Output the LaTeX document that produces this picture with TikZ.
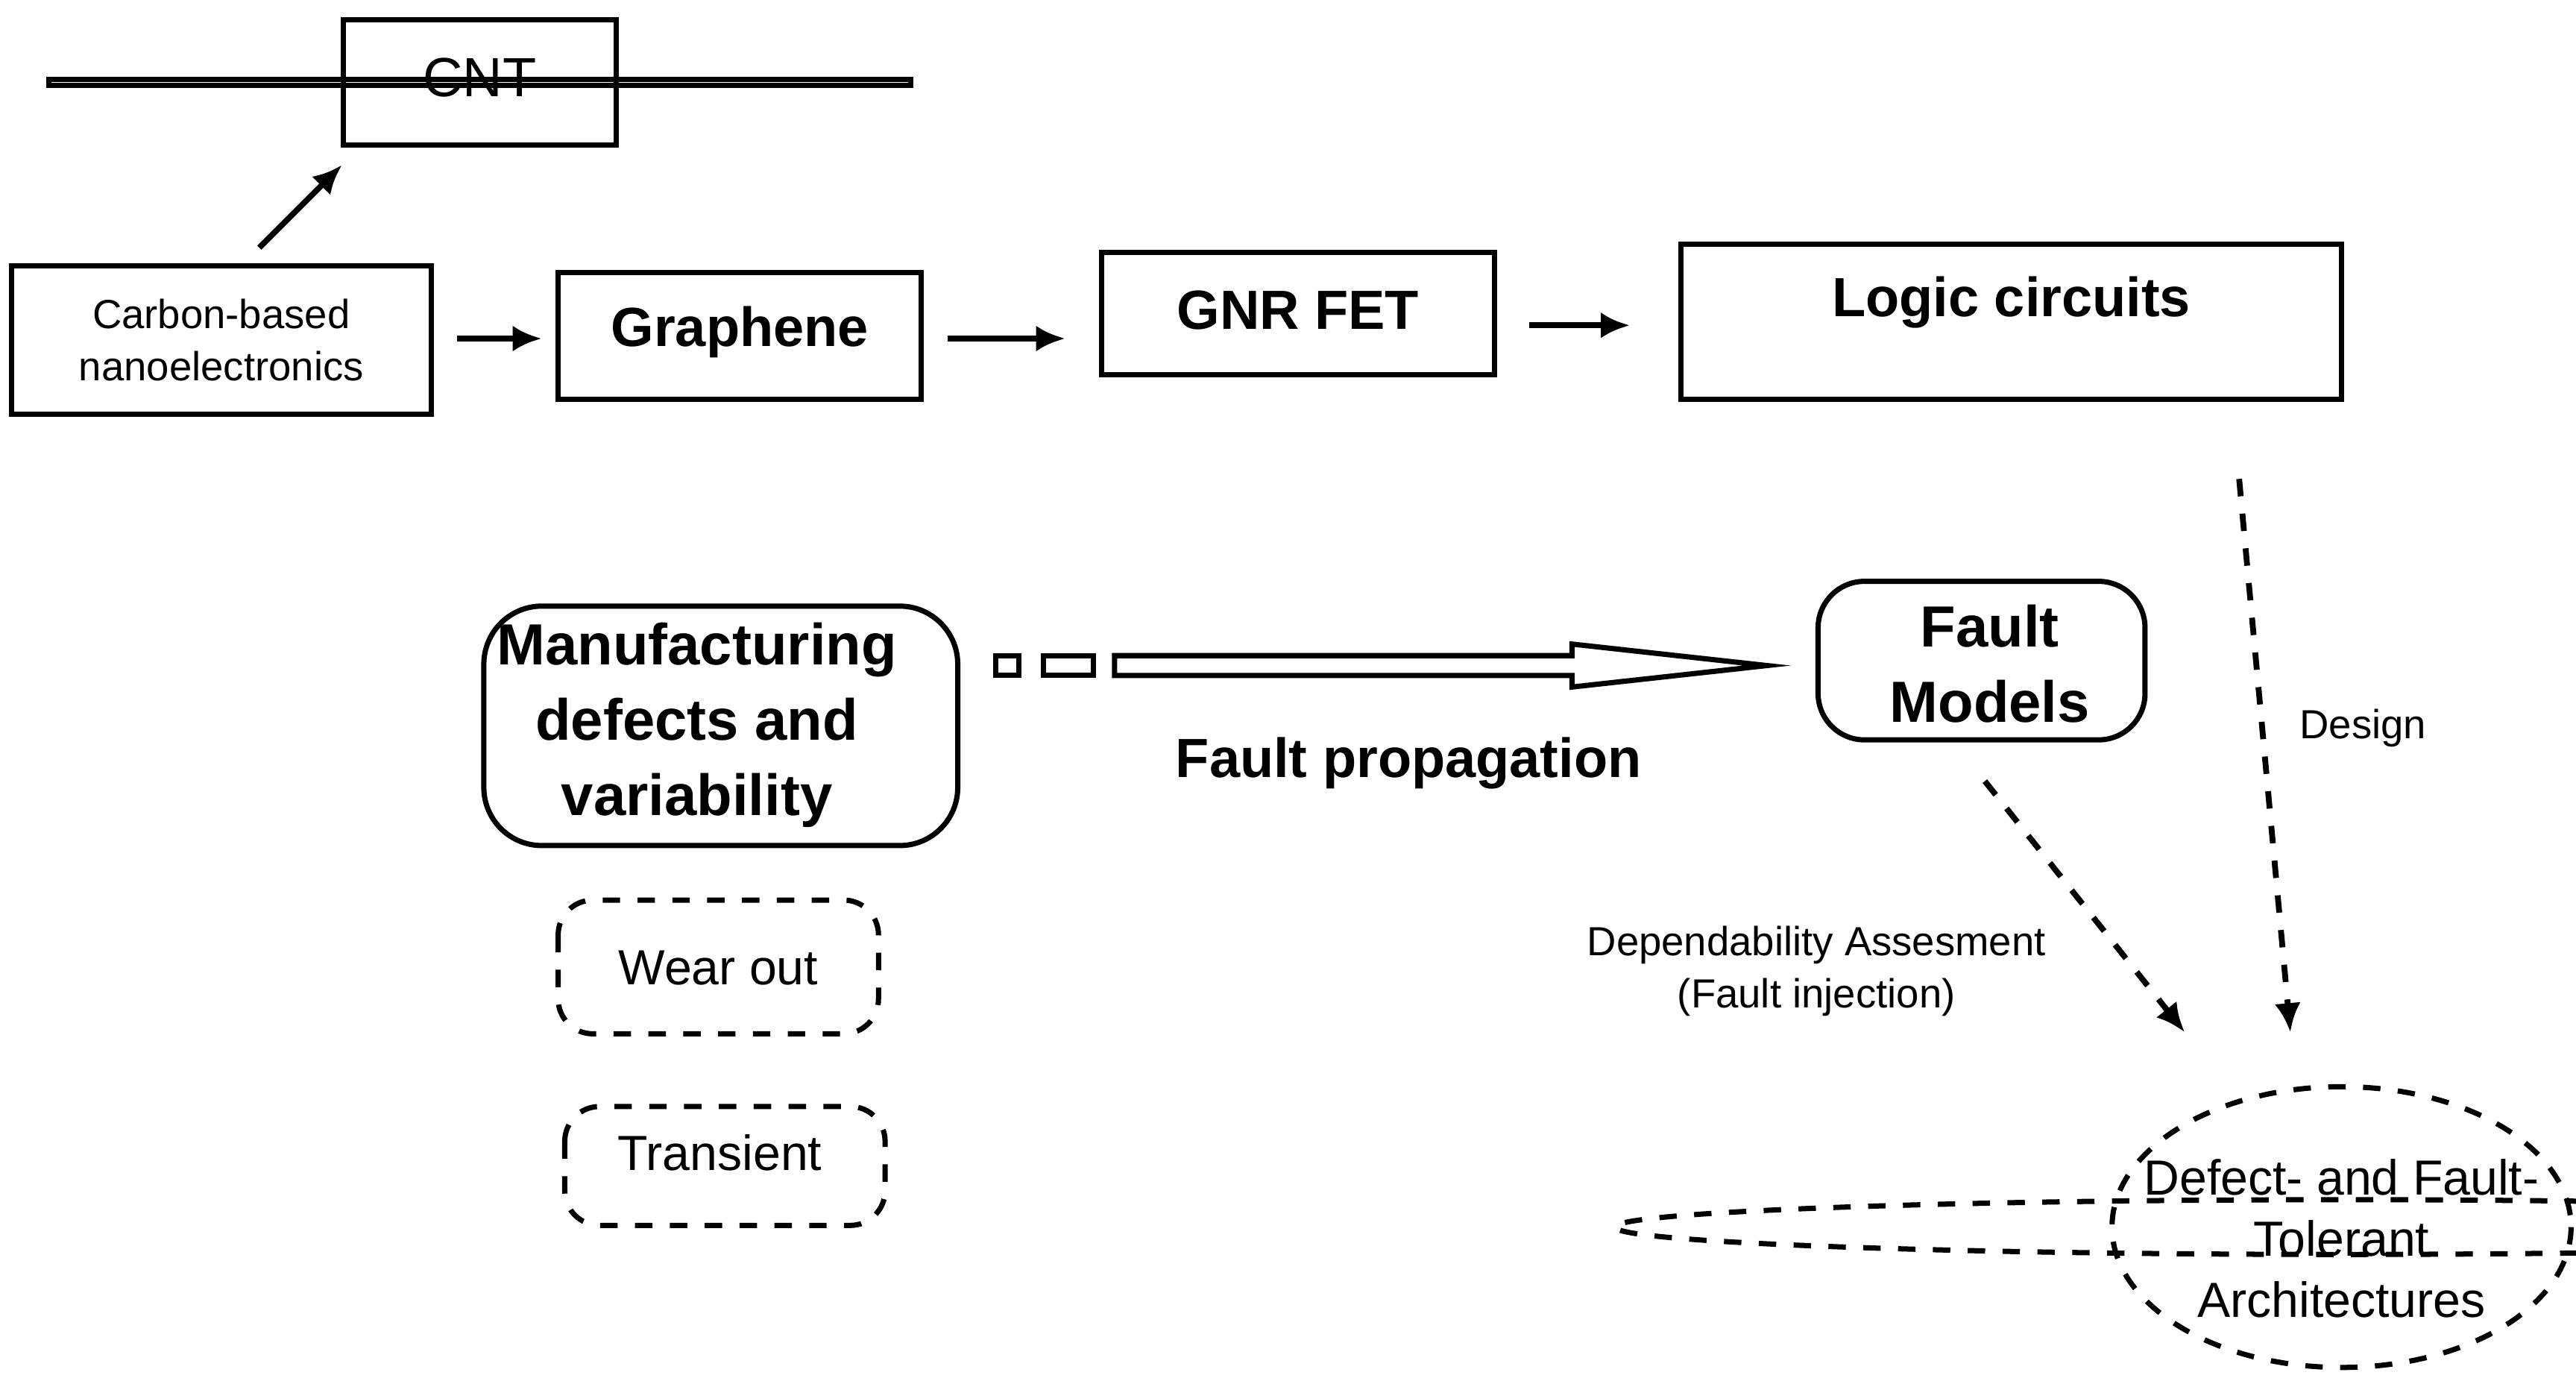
\documentclass[tikz,border=0pt]{standalone}
\usepackage{fontspec}
\setmainfont{Liberation Sans}
\usetikzlibrary{arrows, positioning, shapes.geometric, arrows.meta}

\tikzset{
	box/.style={draw, line width=0.9pt, inner sep=0pt},
	rbox/.style={box, rounded corners=6pt},
	dbox/.style={box, dashed, rounded corners=4pt},
	arr/.style={-{Latex[length=5pt,width=4.5pt]}, line width=1pt},
	darr/.style={arr, dashed}
}

\begin{document}
\begin{tikzpicture}[x=0.01cm, y=-0.01cm]
		\useasboundingbox (0,0) rectangle (1560,837.6);

		% top row
		\node[box, minimum width=165\pgflinewidth] (cnt) at (290.5,50) {};
		\draw[line width=0.9pt] (208,12) rectangle (373,88);
		\node[font=\fontsize{9.5}{11}\selectfont] at (290.5,47) {CNT};
		\draw[line width=0.9pt] (7,161) rectangle (261,251);
		\node[align=center, font=\fontsize{7}{9}\selectfont] (carbon) at (134,206) {Carbon-based\\nanoelectronics};
		\draw[line width=0.9pt] (338,165) rectangle (558,242);
		\node[font=\bfseries\fontsize{9.5}{11}\selectfont] (graphene) at (448,201) {Graphene};
		\draw[line width=0.9pt] (667,153) rectangle (905,227);
		\node[font=\bfseries\fontsize{9.5}{11}\selectfont] (gnr) at (786,188) {GNR FET};
		\draw[line width=0.9pt] (1018,148) rectangle (1418,242);
		\node[font=\bfseries\fontsize{9.5}{11}\selectfont] (logic) at (1218,183) {Logic circuits};

		\coordinate (cntS) at (157,150);
		\coordinate (cntE) at (207,100);
		\draw[arr] (cntS) -- (cntE);
		\coordinate (a1) at (277,205); \coordinate (b1) at (328,205);
		\draw[arr] (a1) -- (b1);
		\coordinate (a2) at (574,205); \coordinate (b2) at (645,205);
		\draw[arr] (a2) -- (b2);
		\coordinate (a3) at (926,197); \coordinate (b3) at (987,197);
		\draw[arr] (a3) -- (b3);

		% faults
		\draw[line width=0.9pt, rounded corners=10pt] (293,367) rectangle (580,512);
		\node[align=center, font=\bfseries\fontsize{10}{13}\selectfont] (manuf) at (422,439) {Manufacturing\\defects and\\variability};
		\draw[line width=0.9pt, rounded corners=8pt] (1101,352) rectangle (1299,448);
		\node[align=center, font=\bfseries\fontsize{10}{13}\selectfont] (fault) at (1205,402) {Fault\\Models};
		\draw[line width=0.9pt, dashed, rounded corners=6pt] (338,545) rectangle (532,626);
		\node[font=\fontsize{8.5}{10}\selectfont] (wear) at (435,586) {Wear out};
		\draw[line width=0.9pt, dashed, rounded corners=6pt] (342,670) rectangle (536,742);
		\node[font=\fontsize{8.5}{10}\selectfont] (trans) at (436,698) {Transient};

		% hollow arrow
		\draw[line width=0.9pt] (603,397) rectangle (617,409);
		\draw[line width=0.9pt] (632,397) rectangle (662,409);
		\draw[line width=0.9pt] (675,397) -- (952,397) -- (952,390) -- (1070,403)
			-- (952,416) -- (952,409) -- (675,409) -- cycle;
		\node[font=\bfseries\fontsize{9.5}{11}\selectfont] (prop) at (853,462) {Fault propagation};

		% architectures
		\node[draw, dashed, ellipse, line width=0.9pt, minimum width=278\pgflinewidth] (arch) at (1418,743) {};
		\draw[line width=0.9pt, dashed] (1418,743) ellipse (139 and 85);
		\node[align=center, font=\fontsize{8.5}{10.5}\selectfont] at (1418,750) {Defect- and Fault-\\Tolerant\\Architectures};

		\coordinate (d1) at (1202,473); \coordinate (d2) at (1323,625);
		\draw[darr] (d1) -- (d2);
		\coordinate (e1) at (1356,290); \coordinate (e2) at (1387,625);
		\draw[darr] (e1) -- (e2);
		\node[font=\fontsize{7}{9}\selectfont] (design) at (1431,441) {Design};
		\node[align=center, font=\fontsize{7}{9}\selectfont] (dep) at (1100,588) {Dependability Assesment\\(Fault injection)};
	\end{tikzpicture}
\end{document}
